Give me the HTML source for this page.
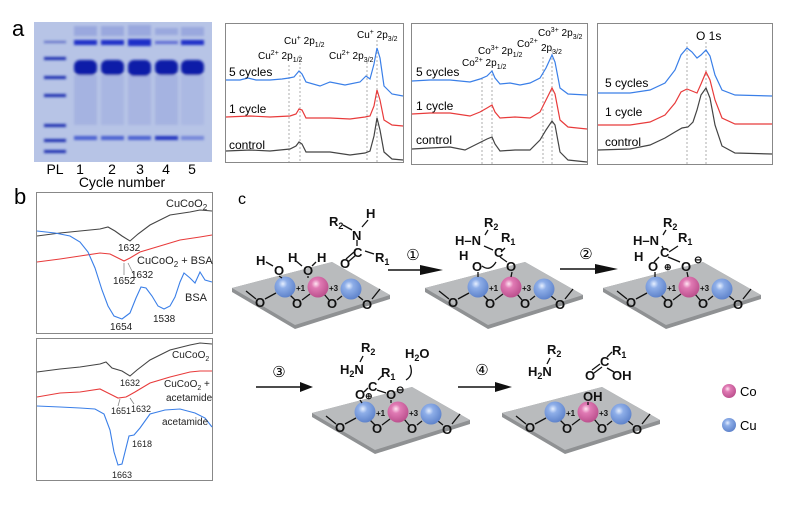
<!DOCTYPE html>
<html><head><meta charset="utf-8"><style>
html,body{margin:0;padding:0;background:#fff;}
svg{display:block;font-family:"Liberation Sans",Arial,sans-serif;}
</style></head><body>
<svg width="800" height="508" viewBox="0 0 800 508" xmlns="http://www.w3.org/2000/svg">
<defs>
<radialGradient id="gb" cx="0.4" cy="0.35" r="0.7"><stop offset="0" stop-color="#e6efff"/><stop offset="0.3" stop-color="#8eaee8"/><stop offset="1" stop-color="#5a7fc8"/></radialGradient>
<radialGradient id="gp" cx="0.4" cy="0.35" r="0.7"><stop offset="0" stop-color="#ffe6f2"/><stop offset="0.3" stop-color="#e07ab4"/><stop offset="1" stop-color="#b84c8a"/></radialGradient>
<filter id="bl"><feGaussianBlur stdDeviation="1.2"/></filter>
</defs>

<text x="12" y="36" font-size="22">a</text>
<text x="14" y="204" font-size="22">b</text>
<text x="238" y="204" font-size="16">c</text>

<!-- gel -->
<rect x="34" y="22" width="178" height="140" fill="#b7c4e6"/>
<g filter="url(#bl)">
<g fill="#9aa8de">
<rect x="74" y="26" width="23" height="10"/><rect x="101" y="26" width="23" height="10"/><rect x="128" y="25" width="23" height="11"/><rect x="155" y="28" width="23" height="7"/><rect x="181" y="27" width="23" height="9"/>
<rect x="74" y="75" width="23" height="50" opacity="0.6"/><rect x="101" y="75" width="23" height="50" opacity="0.5"/><rect x="128" y="75" width="23" height="50" opacity="0.55"/><rect x="155" y="75" width="23" height="50" opacity="0.6"/><rect x="181" y="75" width="23" height="50" opacity="0.4"/>
</g>
<g fill="#1a2fc8">
<rect x="74" y="40" width="23" height="5"/><rect x="101" y="40" width="23" height="5"/><rect x="128" y="39" width="23" height="7"/><rect x="155" y="41" width="23" height="3" opacity="0.6"/><rect x="181" y="40" width="23" height="5"/>
</g>
<g fill="#0a1aa8">
<rect x="74" y="60" width="23" height="15" rx="6"/><rect x="101" y="60" width="23" height="15" rx="6"/><rect x="128" y="60" width="23" height="16" rx="6"/><rect x="155" y="60" width="23" height="15" rx="6"/><rect x="181" y="60" width="23" height="15" rx="6"/>
</g>
<g fill="#4a5ed0">
<rect x="74" y="136" width="23" height="4"/><rect x="101" y="136" width="23" height="4"/><rect x="128" y="136" width="23" height="4"/><rect x="155" y="136" width="23" height="4" fill="#2436c0"/><rect x="181" y="136" width="23" height="4" opacity="0.6"/>
</g>
<g fill="#1d2fb0">
<rect x="44" y="41" width="22" height="2" opacity="0.6"/><rect x="44" y="57" width="22" height="3"/><rect x="44" y="76" width="22" height="3"/><rect x="44" y="94" width="22" height="3"/><rect x="44" y="124" width="22" height="3"/><rect x="44" y="139" width="22" height="3"/><rect x="44" y="150" width="22" height="3"/>
</g>
</g>
<g font-size="14" text-anchor="middle">
<text x="55" y="174">PL</text><text x="80" y="174">1</text><text x="112" y="174">2</text><text x="140" y="174">3</text><text x="166" y="174">4</text><text x="192" y="174">5</text>
<text x="122" y="187">Cycle number</text>
</g>

<!-- plot 1 -->
<rect x="225.5" y="23.5" width="178" height="139" fill="none" stroke="#888" stroke-width="1"/>
<g stroke="#999" stroke-dasharray="2,2" stroke-width="0.8">
<line x1="289" y1="65" x2="289" y2="162"/><line x1="300" y1="55" x2="300" y2="162"/><line x1="367" y1="62" x2="367" y2="162"/><line x1="377" y1="40" x2="377" y2="162"/>
</g>
<g fill="none" stroke-width="1.2">
<polyline stroke="#3a7fe8" points="226,80 240,80 248,78 256,80 270,80 282,79 289,78 294,77 299,71 302,74 306,82 320,86 330,82 345,85 360,82 366,76 370,79 374,64 377,48 380,58 384,86 392,94 403,96"/>
<polyline stroke="#e83b3b" points="226,117 250,116 270,117 290,116 296,114 299,109 302,110 306,118 330,118 350,119 365,117 370,116 374,106 377,90 380,100 384,120 392,125 403,126"/>
<polyline stroke="#444" points="226,151 250,150 270,151 290,149 296,146 299,142 302,144 306,152 330,152 350,155 365,153 370,151 374,136 377,118 380,130 384,152 392,159 403,160"/>
</g>
<g font-size="12"><text x="229" y="76">5 cycles</text><text x="229" y="113">1 cycle</text><text x="229" y="149">control</text></g>
<g font-size="10">
<text x="258" y="59">Cu<tspan dy="-4" font-size="7">2+</tspan><tspan dy="4"> 2p</tspan><tspan dy="3" font-size="7">1/2</tspan></text>
<text x="284" y="44">Cu<tspan dy="-4" font-size="7">+</tspan><tspan dy="4"> 2p</tspan><tspan dy="3" font-size="7">1/2</tspan></text>
<text x="329" y="59">Cu<tspan dy="-4" font-size="7">2+</tspan><tspan dy="4"> 2p</tspan><tspan dy="3" font-size="7">3/2</tspan></text>
<text x="357" y="38">Cu<tspan dy="-4" font-size="7">+</tspan><tspan dy="4"> 2p</tspan><tspan dy="3" font-size="7">3/2</tspan></text>
</g>

<!-- plot 2 -->
<rect x="411.5" y="23.5" width="176" height="141" fill="none" stroke="#888"/>
<g stroke="#999" stroke-dasharray="2,2" stroke-width="0.8">
<line x1="482" y1="78" x2="482" y2="165"/><line x1="492" y1="70" x2="492" y2="165"/><line x1="543" y1="57" x2="543" y2="165"/><line x1="552" y1="50" x2="552" y2="165"/>
</g>
<g fill="none" stroke-width="1.2">
<polyline stroke="#3a7fe8" points="412,81 430,80 450,80 470,82 480,79 487,76 492,71 495,78 500,84 510,83 520,85 530,83 540,78 546,68 552,55 555,62 560,88 568,94 587,95"/>
<polyline stroke="#e83b3b" points="412,114 430,113 450,113 470,116 480,112 487,108 492,105 495,112 500,118 515,117 530,118 540,112 546,100 552,88 555,94 560,120 568,127 587,129"/>
<polyline stroke="#444" points="412,149 430,148 450,147 465,150 475,145 487,139 492,137 495,144 500,151 515,150 530,150 540,140 546,130 552,121 555,125 560,152 568,160 587,162"/>
</g>
<g font-size="12"><text x="416" y="76">5 cycles</text><text x="416" y="110">1 cycle</text><text x="416" y="144">control</text></g>
<g font-size="10">
<text x="462" y="66">Co<tspan dy="-4" font-size="7">2+</tspan><tspan dy="4"> 2p</tspan><tspan dy="3" font-size="7">1/2</tspan></text>
<text x="478" y="54">Co<tspan dy="-4" font-size="7">3+</tspan><tspan dy="4"> 2p</tspan><tspan dy="3" font-size="7">1/2</tspan></text>
<text x="517" y="47">Co<tspan dy="-4" font-size="7">2+</tspan></text>
<text x="541" y="51">2p<tspan dy="3" font-size="7">3/2</tspan></text>
<text x="538" y="36">Co<tspan dy="-4" font-size="7">3+</tspan><tspan dy="4"> 2p</tspan><tspan dy="3" font-size="7">3/2</tspan></text>
</g>

<!-- plot 3 -->
<rect x="597.5" y="23.5" width="175" height="141" fill="none" stroke="#888"/>
<g stroke="#999" stroke-dasharray="2,2" stroke-width="0.8">
<line x1="687" y1="42" x2="687" y2="165"/><line x1="706" y1="42" x2="706" y2="165"/>
</g>
<g fill="none" stroke-width="1.2">
<polyline stroke="#3a7fe8" points="598,93 630,93 650,90 665,83 675,70 681,55 687,48 692,52 697,58 701,55 706,50 710,56 715,75 722,90 735,95 772,96"/>
<polyline stroke="#e83b3b" points="598,125 630,125 650,122 665,115 675,103 681,92 687,89 692,91 697,93 701,84 706,72 710,80 715,100 722,118 735,124 772,124"/>
<polyline stroke="#444" points="598,150 630,149 650,145 665,138 675,132 682,128 688,127 693,122 697,110 701,95 706,88 710,98 715,125 722,146 735,153 772,154"/>
</g>
<g font-size="12"><text x="605" y="87">5 cycles</text><text x="605" y="116">1 cycle</text><text x="605" y="146">control</text></g>
<text x="696" y="40" font-size="12">O 1s</text>

<!-- panel b box 1 -->
<rect x="36.5" y="192.5" width="176" height="141" fill="none" stroke="#888"/>
<g fill="none" stroke-width="1.1">
<polyline stroke="#444" points="37,236 60,233 80,231 100,229 108,227 115,231 122,236 130,241 138,234 150,225 170,215 190,212 200,210 212,211"/>
<polyline stroke="#e83b3b" points="37,262 60,259 80,256 100,253 110,254 118,258 124,261 130,258 140,252 160,246 180,240 200,237 212,235"/>
<polyline stroke="#3a7fe8" points="37,231 55,233 70,236 80,242 88,252 95,268 102,290 108,306 114,316 122,319 130,313 136,298 141,287 146,288 152,296 158,306 164,309 170,306 175,297 180,282 184,273 190,278 195,283 200,272 205,280 212,282"/>
</g>
<g stroke="#888" stroke-width="0.8"><line x1="124" y1="263" x2="124" y2="275"/><line x1="128" y1="263" x2="134" y2="275"/></g>
<g font-size="10" fill="#222">
<text x="166" y="207" font-size="11">CuCoO<tspan dy="3" font-size="8">2</tspan></text>
<text x="118" y="251">1632</text>
<text x="137" y="264" font-size="11">CuCoO<tspan dy="3" font-size="8">2</tspan><tspan dy="-3"> + BSA</tspan></text>
<text x="113" y="284">1652</text><text x="131" y="278">1632</text>
<text x="185" y="301" font-size="11">BSA</text>
<text x="110" y="330">1654</text><text x="153" y="322">1538</text>
</g>

<!-- panel b box 2 -->
<rect x="36.5" y="338.5" width="176" height="142" fill="none" stroke="#888"/>
<g fill="none" stroke-width="1.1">
<polyline stroke="#444" points="37,372 60,369 80,367 100,364 106,362 112,368 122,371 130,376 137,370 150,360 170,350 190,345 200,343 212,344"/>
<polyline stroke="#e83b3b" points="37,397 60,393 80,392 100,389 106,392 112,395 118,398 126,397 135,392 150,383 170,377 190,372 200,371 212,371"/>
<polyline stroke="#3a7fe8" points="37,406 60,407 80,408 95,409 104,414 110,430 114,452 118,465 122,464 126,448 129,436 134,435 140,428 150,414 165,410 180,409 195,413 205,418 212,427"/>
</g>
<g stroke="#888" stroke-width="0.8"><line x1="120" y1="399" x2="118" y2="406"/><line x1="130" y1="398" x2="134" y2="404"/></g>
<g font-size="9" fill="#222">
<text x="172" y="358" font-size="10">CuCoO<tspan dy="3" font-size="7">2</tspan></text>
<text x="120" y="386">1632</text>
<text x="164" y="387" font-size="10">CuCoO<tspan dy="3" font-size="7">2</tspan><tspan dy="-3"> +</tspan></text>
<text x="166" y="401" font-size="10">acetamide</text>
<text x="111" y="414">1651</text><text x="131" y="412">1632</text>
<text x="162" y="425" font-size="10">acetamide</text>
<text x="132" y="447">1618</text><text x="112" y="478">1663</text>
</g>

<!-- panel c plates -->
<g id="plate1">
<polygon points="232,288 332,262 390,295 390,299 295,329 232,292" fill="#8f9193"/>
<polygon points="232,288 332,262 390,295 295,325" fill="#b9bbbd"/>
<g stroke="#111" stroke-width="1.3" fill="none">
<line x1="246" y1="291" x2="256" y2="299"/><line x1="265" y1="299" x2="276" y2="293"/><line x1="290" y1="295" x2="295" y2="300"/><line x1="302" y1="300" x2="310" y2="294"/><line x1="324" y1="294" x2="329" y2="300"/><line x1="337" y1="300" x2="342" y2="296"/><line x1="358" y1="296" x2="363" y2="300"/><line x1="372" y1="299" x2="380" y2="289"/>
</g>
<g font-size="13" font-weight="bold" fill="#111" text-anchor="middle">
<text x="260" y="307">O</text><text x="297" y="308">O</text><text x="332" y="308">O</text><text x="367" y="309">O</text>
</g>
<circle cx="285" cy="287" r="10.5" fill="url(#gb)"/>
<circle cx="318" cy="287" r="10.5" fill="url(#gp)"/>
<circle cx="351" cy="289" r="10.5" fill="url(#gb)"/>
<g font-size="8" font-weight="bold" fill="#111"><text x="296" y="291">+1</text><text x="329" y="291">+3</text></g>
</g>
<use href="#plate1" transform="translate(193,0)"/>
<use href="#plate1" transform="translate(371,0)"/>
<use href="#plate1" transform="translate(80,125)"/>
<use href="#plate1" transform="translate(270,125)"/>

<g font-weight="bold" fill="#111" font-size="13">
<!-- state 1 -->
<text x="274" y="275">O</text><text x="303" y="275">O</text>
<text x="256" y="265">H</text><text x="288" y="262">H</text><text x="317" y="262">H</text>
<g stroke="#111" stroke-width="1.3"><line x1="266" y1="262" x2="273" y2="266"/><line x1="296" y1="261" x2="302" y2="266"/><line x1="316" y1="262" x2="312" y2="266"/><line x1="279" y1="276" x2="282" y2="278"/><line x1="308" y1="276" x2="308" y2="278"/>
<line x1="343" y1="225" x2="352" y2="230"/><line x1="357" y1="240" x2="357" y2="246"/><line x1="365" y1="251" x2="374" y2="254"/><line x1="346" y1="259" x2="354" y2="252"/><line x1="348" y1="262" x2="356" y2="255"/><line x1="362" y1="227" x2="368" y2="220"/></g>
<text x="329" y="226">R<tspan font-size="9" dy="3">2</tspan></text><text x="366" y="218">H</text>
<text x="352" y="240">N</text><text x="353" y="257">C</text><text x="340" y="268">O</text><text x="375" y="262">R<tspan font-size="9" dy="3">1</tspan></text>
</g>
<g font-weight="bold" fill="#111" font-size="13">
<!-- state 2 -->
<text x="484" y="227">R<tspan font-size="9" dy="3">2</tspan></text>
<text x="455" y="245">H–N</text><text x="494" y="257">C</text><text x="501" y="242">R<tspan font-size="9" dy="3">1</tspan></text>
<text x="459" y="260">H</text><text x="472" y="271">O</text><text x="506" y="271">O</text>
<g stroke="#111" stroke-width="1.3" fill="none"><line x1="488" y1="230" x2="485" y2="235"/><line x1="484" y1="246" x2="493" y2="250"/><line x1="501" y1="252" x2="505" y2="248"/><line x1="500" y1="257" x2="507" y2="262"/><line x1="478" y1="272" x2="478" y2="277"/><line x1="512" y1="272" x2="511" y2="277"/><path d="M482,266 q8,6 14,-4"/></g>
<!-- state 3 -->
<text x="663" y="227">R<tspan font-size="9" dy="3">2</tspan></text>
<text x="633" y="245">H–N</text><text x="660" y="257">C</text><text x="678" y="242">R<tspan font-size="9" dy="3">1</tspan></text>
<text x="634" y="261">H</text><text x="648" y="271">O</text><text x="681" y="271">O</text>
<text x="664" y="270" font-size="9">⊕</text><text x="694" y="263" font-size="10">⊖</text>
<g stroke="#111" stroke-width="1.3"><line x1="666" y1="230" x2="663" y2="235"/><line x1="662" y1="246" x2="664" y2="250"/><line x1="669" y1="252" x2="678" y2="246"/><line x1="654" y1="262" x2="659" y2="257"/><line x1="668" y1="257" x2="680" y2="262"/><line x1="655" y1="272" x2="655" y2="277"/><line x1="687" y1="272" x2="688" y2="277"/></g>
<!-- state 4 -->
<text x="361" y="352">R<tspan font-size="9" dy="3">2</tspan></text><text x="340" y="374">H<tspan font-size="9" dy="3">2</tspan><tspan dy="-3">N</tspan></text>
<text x="381" y="377">R<tspan font-size="9" dy="3">1</tspan></text><text x="368" y="391">C</text>
<text x="355" y="399">O</text><text x="386" y="399">O</text>
<text x="365" y="399" font-size="9">⊕</text><text x="396" y="393" font-size="10">⊖</text>
<text x="405" y="358">H<tspan font-size="9" dy="3">2</tspan><tspan dy="-3">O</tspan></text>
<g stroke="#111" stroke-width="1.3" fill="none"><line x1="363" y1="356" x2="360" y2="362"/><line x1="378" y1="380" x2="382" y2="376"/><line x1="364" y1="392" x2="368" y2="388"/><line x1="377" y1="390" x2="386" y2="393"/><line x1="360" y1="400" x2="362" y2="403"/><line x1="391" y1="400" x2="391" y2="403"/><path d="M410,365 q4,10 -4,15"/></g>
<!-- state 5 -->
<text x="547" y="354">R<tspan font-size="9" dy="3">2</tspan></text><text x="528" y="376">H<tspan font-size="9" dy="3">2</tspan><tspan dy="-3">N</tspan></text>
<text x="612" y="355">R<tspan font-size="9" dy="3">1</tspan></text><text x="600" y="366">C</text>
<text x="585" y="380">O</text><text x="612" y="380">OH</text>
<text x="583" y="401">OH</text>
<g stroke="#111" stroke-width="1.3"><line x1="550" y1="358" x2="547" y2="364"/><line x1="607" y1="357" x2="612" y2="352"/><line x1="592" y1="370" x2="600" y2="364"/><line x1="594" y1="373" x2="602" y2="367"/><line x1="607" y1="368" x2="614" y2="372"/><line x1="588" y1="402" x2="588" y2="405"/></g>
</g>

<!-- arrows -->
<g stroke="#111" stroke-width="1.5">
<line x1="388" y1="270" x2="420" y2="270"/><line x1="560" y1="269" x2="595" y2="269"/>
<line x1="256" y1="387" x2="300" y2="387"/><line x1="458" y1="387" x2="495" y2="387"/>
</g>
<g fill="#111">
<polygon points="420,265 443,270 420,275"/><polygon points="595,264 618,269 595,274"/>
<polygon points="300,382 313,387 300,392"/><polygon points="495,382 512,387 495,392"/>
</g>
<g font-size="15" text-anchor="middle"><text x="413" y="260">①</text><text x="586" y="259">②</text><text x="279" y="377">③</text><text x="482" y="375">④</text></g>

<!-- legend -->
<circle cx="729" cy="391" r="7" fill="url(#gp)"/><text x="740" y="396" font-size="13">Co</text>
<circle cx="729" cy="425" r="7" fill="url(#gb)"/><text x="740" y="430" font-size="13">Cu</text>
</svg>
</body></html>
